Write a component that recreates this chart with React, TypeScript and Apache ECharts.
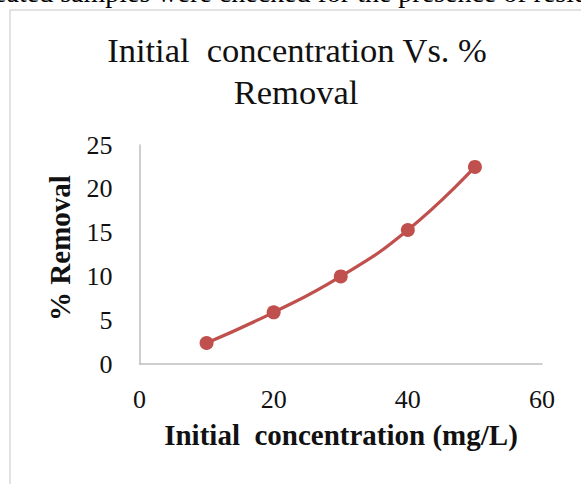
import React, { useEffect, useRef } from "react";
import * as echarts from "echarts";

const concentrations = [10, 20, 30, 40, 50];
const removal = [2.4, 5.9, 10.0, 15.3, 22.5];
const titleLines = ["Initial\u00a0 concentration Vs. %", "Removal"];
const xAxisTitle = "Initial\u00a0 concentration (mg/L)";
const yAxisTitle = "% Removal";
const bodyText = "treated samples were checked for the presence of residual";

const SERIF = "'Liberation Serif', 'Times New Roman', serif";

export default function App() {
  const ref = useRef<HTMLDivElement>(null);
  useEffect(() => {
    if (!ref.current) return;
    const chart = echarts.init(ref.current, undefined, { renderer: "svg" });
    chart.setOption({
      animation: false,
      backgroundColor: "#ffffff",
      grid: { left: 139.5, right: 39, top: 145, bottom: 120, containLabel: false },
      xAxis: {
        type: "value",
        min: 0,
        max: 60,
        interval: 20,
        axisLine: { show: true, lineStyle: { color: "#bfbfbf", width: 1.5 } },
        axisTick: { show: false },
        splitLine: { show: false },
        axisLabel: { margin: 22, fontSize: 26, fontFamily: SERIF, color: "#111" },
      },
      yAxis: {
        type: "value",
        min: 0,
        max: 25,
        interval: 5,
        axisLine: { show: true, lineStyle: { color: "#bfbfbf", width: 1.5 } },
        axisTick: { show: false },
        splitLine: { show: false },
        axisLabel: { margin: 27, fontSize: 26, fontFamily: SERIF, color: "#111" },
      },
      series: [
        {
          type: "line",
          data: concentrations.map((c, i) => [c, removal[i]]),
          smooth: true,
          symbol: "circle",
          symbolSize: 14,
          lineStyle: { color: "#C0504D", width: 3.2 },
          itemStyle: { color: "#C0504D" },
        },
      ],
      graphic: [
        {
          type: "rect",
          shape: { x: 10, y: 10, width: 700, height: 600 },
          style: { fill: "none", stroke: "#d9d9d9", lineWidth: 1.5 },
          z: -10,
        },
        {
          type: "text",
          x: -23,
          y: -7.5,
          style: {
            text: bodyText,
            font: `28px ${SERIF}`,
            fill: "#000",
            textAlign: "left",
            textVerticalAlign: "middle",
          },
        },
        {
          type: "text",
          x: 297,
          y: 50.3,
          style: {
            text: titleLines[0],
            font: `34.5px ${SERIF}`,
            fill: "#111",
            textAlign: "center",
            textVerticalAlign: "middle",
          },
        },
        {
          type: "text",
          x: 296,
          y: 92,
          style: {
            text: titleLines[1],
            font: `34.5px ${SERIF}`,
            fill: "#111",
            textAlign: "center",
            textVerticalAlign: "middle",
          },
        },
        {
          type: "text",
          x: 341,
          y: 435,
          style: {
            text: xAxisTitle,
            font: `bold 29px ${SERIF}`,
            fill: "#111",
            textAlign: "center",
            textVerticalAlign: "middle",
          },
        },
        {
          type: "text",
          x: 60,
          y: 248,
          rotation: Math.PI / 2,
          style: {
            text: yAxisTitle,
            font: `bold 29px ${SERIF}`,
            fill: "#111",
            textAlign: "center",
            textVerticalAlign: "middle",
          },
        },
      ],
    });
    return () => chart.dispose();
  }, []);
  return (
    <div
      ref={ref}
      style={{ position: "fixed", left: 0, top: 0, width: 581, height: 484 }}
    />
  );
}
